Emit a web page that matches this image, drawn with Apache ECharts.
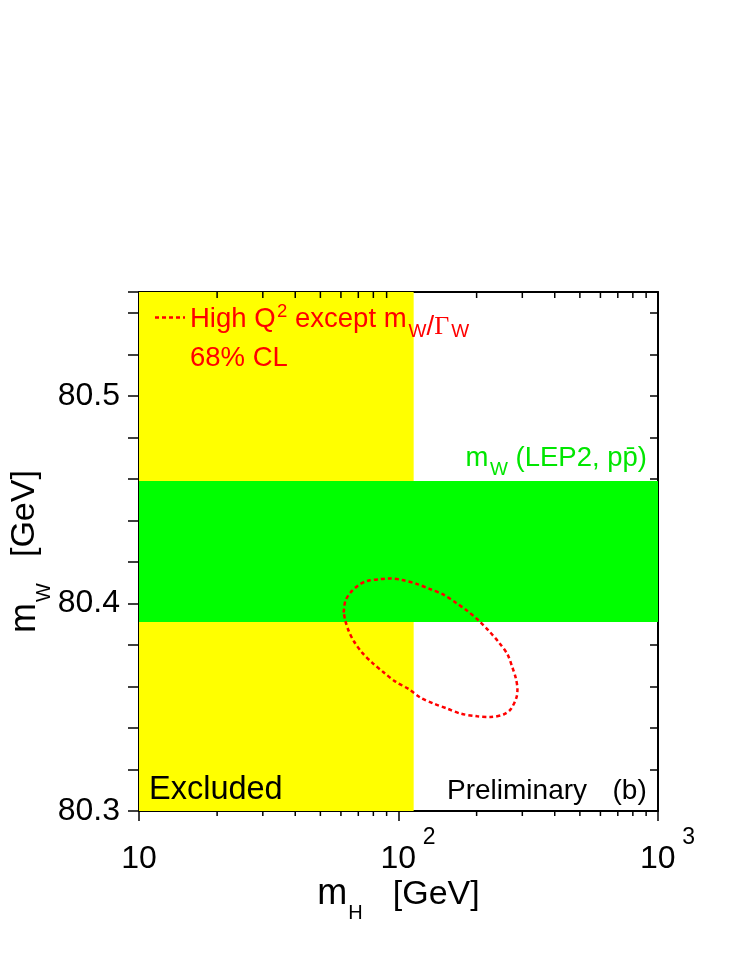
<!DOCTYPE html>
<html>
<head>
<meta charset="utf-8">
<script src="https://cdn.jsdelivr.net/npm/echarts@6/dist/echarts.min.js"></script>
<style>
html,body{margin:0;padding:0;background:#fff;}
#chart{width:747px;height:967px;}
</style>
</head>
<body>
<div id="chart"></div>
<script>
// ---- data ----
const xMajorTicks = [10, 100, 1000];
const xMinorTicks = [20, 30, 40, 50, 60, 70, 80, 90, 200, 300, 400, 500, 600, 700, 800, 900];
const yMin = 80.3, yMax = 80.55, yStep = 0.02;
const excludedMH = [10, 114.4];           // yellow excluded region (GeV)
const bandMW = [80.391, 80.459];          // green m_W band (LEP2, ppbar)
const ellipseMH = [61.5, 62.4, 65.3, 70.3, 75.7, 85.2, 91.7, 103.3, 118.1, 132.9, 149.6, 166.0, 184.2, 204.2,
  223.2, 244.0, 262.9, 274.8, 282.9, 287.3, 284.7, 270.6, 255.0, 226.6, 201.3, 173.5, 154.2, 136.9, 121.6,
  109.6, 97.4, 87.8, 79.1, 72.4, 67.2, 64.3, 62.4, 61.5];
const ellipseMW = [80.3956, 80.4012, 80.4052, 80.4089, 80.4108, 80.4117, 80.4120, 80.4113, 80.4093, 80.4068,
  80.4041, 80.4004, 80.3964, 80.3916, 80.3867, 80.3811, 80.3755, 80.3691, 80.3642, 80.3587, 80.3546, 80.3490,
  80.3466, 80.3453, 80.3456, 80.3469, 80.3493, 80.3517, 80.3546, 80.3587, 80.3623, 80.3667, 80.3715, 80.3763,
  80.3819, 80.3867, 80.3916, 80.3956];

const FF = '"Liberation Sans", Arial, Helvetica, sans-serif';
const chart = echarts.init(document.getElementById('chart'), null, {renderer: 'canvas'});

const ellipseData = ellipseMH.map((x, i) => [x, ellipseMW[i]]);

function tokenStyle(size, padding, color, family) {
  return {fontSize: size, lineHeight: size, padding: padding, verticalAlign: 'bottom',
          fontFamily: family || FF, color: color || '#000', fill: color || '#000'};
}

const RED = '#ff0000';
const GREEN = '#00e600';

const option = {
  animation: false,
  backgroundColor: '#fff',
  grid: {left: 139, right: 89, top: 292, bottom: 156, containLabel: false, outerBoundsMode: 'none'},
  xAxis: [
    {
      type: 'log', logBase: 10, min: 10, max: 1000, position: 'bottom',
      name: '{m|m}{s|H}{g|[GeV]}', nameLocation: 'middle', nameGap: 76.5, nameMoveOverlap: false,
      nameTextStyle: {
        rich: {
          m: tokenStyle(36, [0, 0, 11, 0]),
          s: tokenStyle(20, [0, 30, 0, 1]),
          g: tokenStyle(34, [0, 0, 12, 0])
        }
      },
      axisLine: {show: true, lineStyle: {color: '#000', width: 2}},
      axisTick: {show: true, inside: false, length: 10, lineStyle: {color: '#000', width: 1.5}},
      axisLabel: {
        margin: 32,
        color: '#000',
        formatter: function (v) {
          const e = Math.round(Math.log10(v));
          return e === 1 ? '{q|10}' : '{p|10}{s|' + e + '}';
        },
        rich: {
          q: tokenStyle(32, [17, 0, 0, 0]),
          p: tokenStyle(32, [0, 0, 0, 19]),
          s: tokenStyle(23, [0, 0, 26, 6.5])
        }
      },
      splitLine: {show: false},
      minorTick: {show: false}
    },
    {
      type: 'log', logBase: 10, min: 10, max: 1000, position: 'top',
      axisLine: {show: true, lineStyle: {color: '#000', width: 2}},
      axisTick: {show: true, inside: true, length: 8, lineStyle: {color: '#000', width: 1.5}},
      axisLabel: {show: false},
      splitLine: {show: false}
    }
  ],
  yAxis: [
    {
      type: 'value', min: yMin, max: yMax, interval: yStep, position: 'left',
      name: '{m|m}{s|W}{g|[GeV]}', nameLocation: 'middle', nameRotate: 90, nameGap: 85, nameMoveOverlap: false,
      nameTextStyle: {
        rich: {
          m: tokenStyle(36, [0, 0, 11, 0]),
          s: tokenStyle(20, [0, 26, 0, 1]),
          g: tokenStyle(34, [0, 0, 12, 0])
        }
      },
      axisLine: {show: true, lineStyle: {color: '#000', width: 2}},
      axisTick: {show: true, inside: false, length: 11, lineStyle: {color: '#000', width: 1.5}},
      axisLabel: {
        margin: 19, color: '#000', fontSize: 32, fontFamily: FF,
        formatter: function (v) {
          const r = Math.round(v * 100) / 100;
          return Math.abs(r * 10 - Math.round(r * 10)) < 1e-6 ? r.toFixed(1) : '';
        }
      },
      splitLine: {show: false}
    },
    {
      type: 'value', min: yMin, max: yMax, interval: yStep, position: 'right',
      axisLine: {show: true, lineStyle: {color: '#000', width: 2}},
      axisTick: {show: true, inside: true, length: 8, lineStyle: {color: '#000', width: 1.5}},
      axisLabel: {show: false},
      splitLine: {show: false}
    }
  ],
  series: [
    {
      type: 'line', name: 'High Q2 except mW/GammaW 68% CL',
      xAxisIndex: 0, yAxisIndex: 0,
      data: ellipseData,
      showSymbol: false, symbol: 'none', smooth: 0.3,
      lineStyle: {color: RED, width: 2.5, type: [4, 3]},
      z: 5,
      markArea: {
        silent: true,
        z: 1,
        data: [
          [{xAxis: excludedMH[0], itemStyle: {color: '#ffff00', opacity: 1, borderWidth: 0}}, {xAxis: excludedMH[1]}],
          [{yAxis: bandMW[0], itemStyle: {color: '#00ff00', opacity: 1, borderWidth: 0}}, {yAxis: bandMW[1]}]
        ]
      }
    },
    {
      type: 'custom', xAxisIndex: 0, yAxisIndex: 0, silent: true, clip: false, z: 10,
      data: xMinorTicks.map(v => [v, yMin]),
      renderItem: function (params, api) {
        const b = api.coord([api.value(0), yMin]);
        const t = api.coord([api.value(0), yMax]);
        return {
          type: 'group',
          children: [
            {type: 'line', shape: {x1: b[0], y1: b[1], x2: b[0], y2: b[1] + 5}, style: {stroke: '#000', lineWidth: 1.5}},
            {type: 'line', shape: {x1: t[0], y1: t[1], x2: t[0], y2: t[1] + 6}, style: {stroke: '#000', lineWidth: 1.5}}
          ]
        };
      }
    }
  ],
  graphic: [
    {type: 'line', z: 100, shape: {x1: 155, y1: 317.5, x2: 185, y2: 317.5},
     style: {stroke: RED, lineWidth: 2.5, lineDash: [4, 3]}},
    {type: 'text', z: 100, x: 190, y: 341.5,
     style: {
       text: '{t|High Q}{sup|2}{t| except m}{sub|W}{sl|/}{G|\u0393}{sub|W}',
       align: 'left', verticalAlign: 'bottom', fill: RED,
       rich: {
         t: tokenStyle(27.5, [0, 0, 8.5, 0], RED),
         sup: tokenStyle(18.5, [0, 0, 20, 1.5], RED),
         sub: tokenStyle(19, [0, 0, 0, 2], RED),
         sl: tokenStyle(27.5, [0, 0, 0.5, 0], RED),
         G: tokenStyle(26, [0, 0, 1, 0], RED, '"Liberation Serif", "DejaVu Serif", serif')
       }
     }},
    {type: 'text', z: 100, x: 190, y: 372.5,
     style: {text: '68% CL', fontSize: 27.5, lineHeight: 27.5, fontFamily: FF, fill: RED, align: 'left', verticalAlign: 'bottom'}},
    {type: 'text', z: 100, x: 647, y: 479,
     style: {
       text: '{t|m}{sub|W}{t| (LEP2, pp\u0304)}',
       align: 'right', verticalAlign: 'bottom', fill: GREEN,
       rich: {
         t: tokenStyle(27.5, [0, 0, 6.8, 0], GREEN),
         sub: tokenStyle(19, [0, 0, 0, 1.5], GREEN)
       }
     }},
    {type: 'text', z: 100, x: 149, y: 806,
     style: {text: 'Excluded', fontSize: 32.5, lineHeight: 32.5, fontFamily: FF, fill: '#000', align: 'left', verticalAlign: 'bottom'}},
    {type: 'text', z: 100, x: 447, y: 805.6,
     style: {text: 'Preliminary', fontSize: 28, lineHeight: 28, fontFamily: FF, fill: '#000', align: 'left', verticalAlign: 'bottom'}},
    {type: 'text', z: 100, x: 612.5, y: 805.6,
     style: {text: '(b)', fontSize: 28, lineHeight: 28, fontFamily: FF, fill: '#000', align: 'left', verticalAlign: 'bottom'}}
  ]
};
chart.setOption(option);
</script>
</body>
</html>
